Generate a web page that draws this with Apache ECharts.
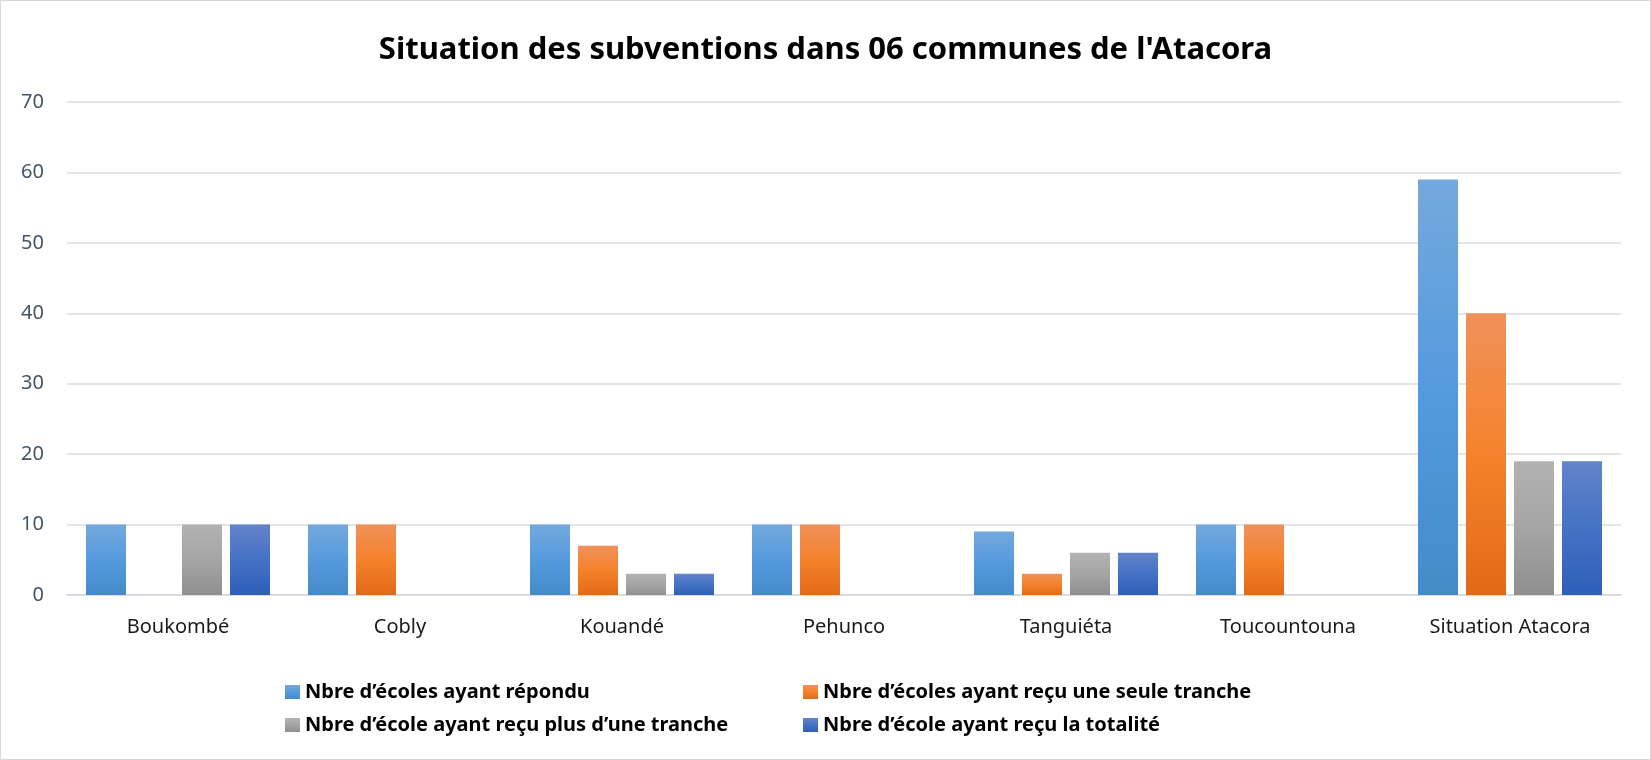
<!DOCTYPE html>
<html>
<head>
<meta charset="utf-8">
<script src="https://cdn.jsdelivr.net/npm/echarts@6/dist/echarts.min.js"></script>
<style>
  html, body { margin: 0; padding: 0; background: #fff; }
  #chart { width: 1651px; height: 760px; box-sizing: border-box; border: 1px solid #d9d9d9; }
</style>
</head>
<body>
<div id="chart"></div>
<script>
const communes = ["Boukombé", "Cobly", "Kouandé", "Pehunco", "Tanguiéta", "Toucountouna", "Situation Atacora"];
const repondu = [10, 10, 10, 10, 9, 10, 59];
const seuleTranche = [0, 10, 7, 10, 3, 10, 40];
const plusTranche = [10, 0, 3, 0, 6, 0, 19];
const totalite = [10, 0, 3, 0, 6, 0, 19];
const yTicks = [0, 10, 20, 30, 40, 50, 60, 70];

const names = [
  "Nbre d’écoles ayant répondu",
  "Nbre d’écoles ayant reçu une seule tranche",
  "Nbre d’école ayant reçu plus d’une tranche",
  "Nbre d’école ayant reçu la totalité",
];

function grad(top, mid, bottom) {
  return new echarts.graphic.LinearGradient(0, 0, 0, 1, [
    { offset: 0, color: top },
    { offset: 0.5, color: mid },
    { offset: 1, color: bottom },
  ]);
}

const colors = [
  grad("#74a9dc", "#559ade", "#458ac8"),
  grad("#f0915a", "#f5822b", "#e26a17"),
  grad("#b2b2b2", "#a5a5a5", "#8f8f8f"),
  grad("#6483cb", "#4472c4", "#2e5eb9"),
];
const legendColors = ["#5b9bd5", "#ed7d31", "#a5a5a5", "#4472c4"];

const font = "'Noto Sans', sans-serif";
const chart = echarts.init(document.getElementById("chart"));

const datasets = [repondu, seuleTranche, plusTranche, totalite];

const legendText = { fontFamily: font, fontSize: 20, fontWeight: "bold", color: "#000" };

chart.setOption({
  animation: false,
  title: {
    text: "Situation des subventions dans 06 communes de l'Atacora",
    left: "center",
    top: 29,
    textStyle: { fontFamily: font, fontSize: 31, fontWeight: "bold", color: "#000" },
  },
  legend: [
    {
      data: [names[0], names[2]],
      orient: "vertical",
      left: 284,
      top: 681,
      padding: 0,
      itemWidth: 15,
      itemHeight: 14,
      itemGap: 13,
      icon: "rect",
      textStyle: legendText,
    },
    {
      data: [names[1], names[3]],
      orient: "vertical",
      left: 802,
      top: 681,
      padding: 0,
      itemWidth: 15,
      itemHeight: 14,
      itemGap: 13,
      icon: "rect",
      textStyle: legendText,
    },
  ],
  grid: { left: 66, right: 29, top: 101, bottom: 164, containLabel: false },
  xAxis: {
    type: "category",
    data: communes,
    axisTick: { show: false },
    axisLine: { lineStyle: { color: "#d9dde3", width: 2 } },
    axisLabel: { fontFamily: font, fontSize: 20, color: "#1a1a1a", margin: 22 },
  },
  yAxis: {
    type: "value",
    min: yTicks[0],
    max: yTicks[yTicks.length - 1],
    interval: 10,
    axisLine: { show: false },
    axisTick: { show: false },
    splitLine: { lineStyle: { color: "#e1e4e9", width: 2 } },
    axisLabel: { fontFamily: font, fontSize: 20, color: "#44546a", margin: 23 },
  },
  series: datasets.map((d, i) => ({
    name: names[i],
    type: "bar",
    data: d,
    barWidth: 40,
    barGap: "20%",
    color: legendColors[i],
    itemStyle: { color: colors[i] },
  })),
});
</script>
</body>
</html>
